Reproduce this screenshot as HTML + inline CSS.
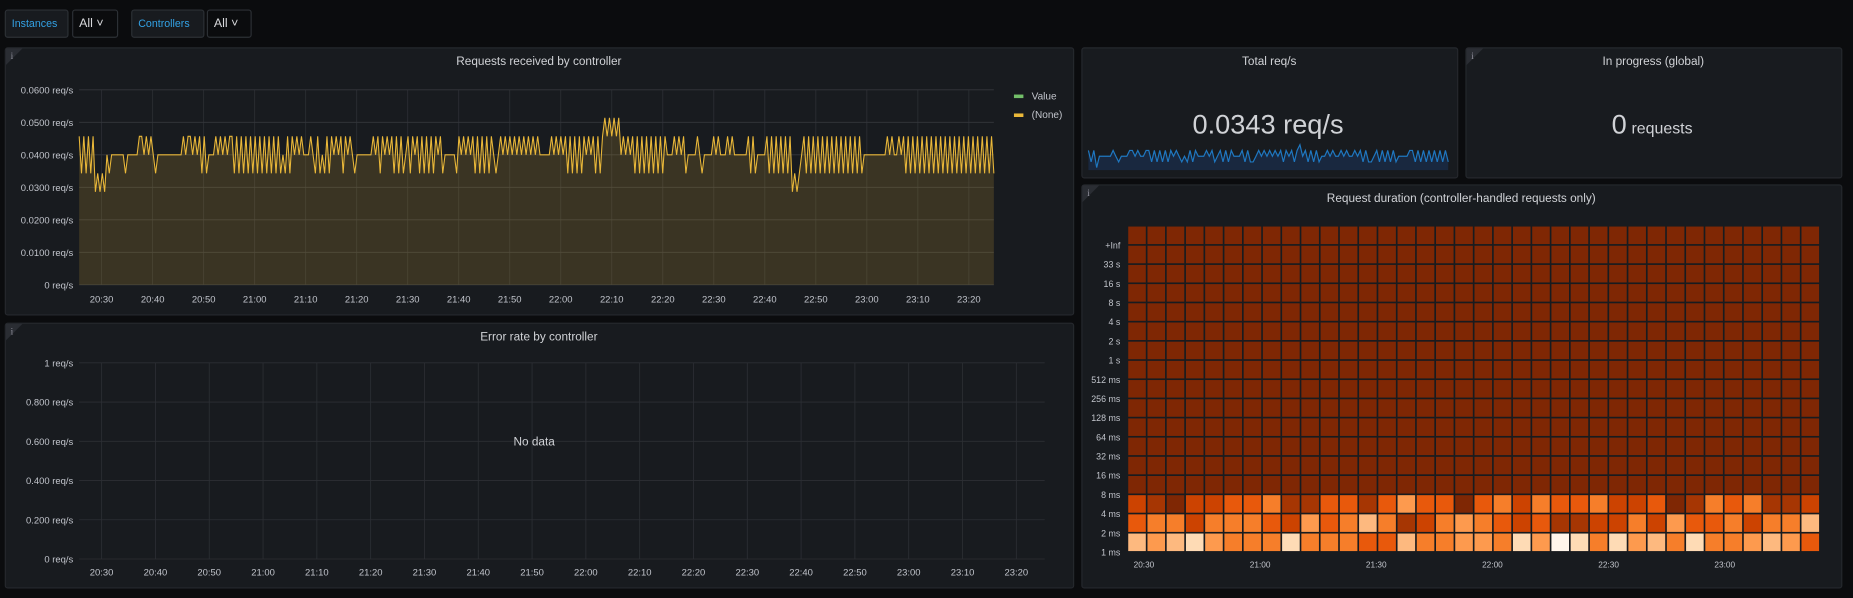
<!DOCTYPE html>
<html><head><meta charset="utf-8">
<style>
html,body{margin:0;padding:0;background:#0b0c0e;overflow:hidden;}
svg{display:block;font-family:"Liberation Sans",sans-serif;}
</style></head>
<body>
<svg id="s" width="1853" height="598" viewBox="0 0 1568 506" preserveAspectRatio="none" xmlns="http://www.w3.org/2000/svg"></svg>
<script>
// ---- Data ----
const reqLevels = "424242412121323333332333334434343233333333333434434342423334343434424242424242424242424232424343433343242324243434243432333333343424343424242342434242424243423333324343434242424243234343434343434343433333434343424242424343424245454545343434242424242424243334343423333432333343433343433333342423333424242424241212342424242424242424242424242333333333343433434242424242424242424242424242424242424242";
const levelValues = [0, 0.0286, 0.0343, 0.04, 0.0457, 0.0514];
const reqValues = reqLevels.split("").map(c => levelValues[+c]);
const reqYTicks = [0, 0.01, 0.02, 0.03, 0.04, 0.05, 0.06];
const reqYLabels = ["0 req/s","0.0100 req/s","0.0200 req/s","0.0300 req/s","0.0400 req/s","0.0500 req/s","0.0600 req/s"];
const timeLabels = ["20:30","20:40","20:50","21:00","21:10","21:20","21:30","21:40","21:50","22:00","22:10","22:20","22:30","22:40","22:50","23:00","23:10","23:20"];
const timeMinutes = [30,40,50,60,70,80,90,100,110,120,130,140,150,160,170,180,190,200];
const errYTicks = [0,0.2,0.4,0.6,0.8,1];
const errYLabels = ["0 req/s","0.200 req/s","0.400 req/s","0.600 req/s","0.800 req/s","1 req/s"];
const heatRowLabels = ["1 ms","2 ms","4 ms","8 ms","16 ms","32 ms","64 ms","128 ms","256 ms","512 ms","1 s","2 s","4 s","8 s","16 s","33 s","+Inf"];
const heatRow2ms = [6,5,6,7,5,4,4,4,7,4,4,4,3,3,6,4,4,5,5,4,7,5,8,7,4,7,5,6,4,7,4,4,5,6,5,3];
const heatRow4ms = [3,4,4,2,4,4,4,3,2,5,3,4,6,4,1,2,4,5,4,3,2,3,1,1,2,2,4,2,5,3,3,4,2,4,4,6];
const heatRow8ms = [2,1,0,2,2,3,3,4,1,1,3,3,1,3,5,3,3,0,3,4,2,4,3,3,4,2,2,3,0,1,4,3,4,1,1,2];
const heatXLabels = ["20:30","21:00","21:30","22:00","22:30","23:00"];
const heatXMinutes = [30,60,90,120,150,180];

const NS="http://www.w3.org/2000/svg";
const svg=document.getElementById('s');
function el(tag,attrs,parent,text){const e=document.createElementNS(NS,tag);for(const k in attrs)e.setAttribute(k,attrs[k]);if(text!=null)e.textContent=text;(parent||svg).appendChild(e);return e;}
const TXT='#c2c5cc';

function panel(x,y,w,h,name,title,info){
  const g=el('g',{});
  
  
  el('rect',{x:x+0.5,y:y+0.5,width:w,height:h,rx:2,fill:'#181b1f',stroke:'#25282d'},g);
  if(info){el('path',{d:`M${x+1} ${y+1}h14l-14 14z`,fill:'#2a2d33'},g);
    const t=el('text',{x:x+5,y:y+10,'font-size':8,fill:'#8e8e9a','font-family':'Liberation Serif, serif'},g,'i');
    }
  if(title){const t=el('text',{x:x+w/2,y:y+15,'font-size':10,fill:'#d0d2d6','text-anchor':'middle'},g,title);
    }
  return g;
}

function btn(x,w,label,color,name){
  const g=el('g',{});
  
  
  el('rect',{x:x+0.5,y:8.5,width:w,height:23,rx:2,fill:color==='#33a2e5'?'#181b1f':'#0b0c0e',stroke:'#2c3035'},g);
  el('text',{x:x+6,y:23,'font-size':color==='#33a2e5'?9:10.5,fill:color},g,label);
}
btn(4,53,'Instances','#33a2e5','instances-label');
btn(61,38,'All ˅','#d8d9dc','instances-select');
btn(111,61,'Controllers','#33a2e5','controllers-label');
btn(175,37,'All ˅','#d8d9dc','controllers-select');

// ---- Panel 1 ----
const p1=panel(4,40,904,226,'requests-panel','Requests received by controller',true);
const X0=67,X1=841,startMin=25.6,endMin=204.9;
const xs=m=>X0+(m-startMin)/(endMin-startMin)*(X1-X0);
const ys=v=>241-v/0.06*(241-76);
timeMinutes.forEach((m,i)=>{el('line',{x1:xs(m),x2:xs(m),y1:76,y2:241,stroke:'#2c2f34','stroke-width':0.7},p1);
  const t=el('text',{x:xs(m),y:256,'font-size':8,fill:TXT,'text-anchor':'middle'},p1,timeLabels[i]);
  });
reqYTicks.forEach((v,i)=>{el('line',{x1:X0,x2:X1,y1:ys(v),y2:ys(v),stroke:'#34373c','stroke-width':0.8},p1);
  const t=el('text',{x:62,y:ys(v)+3,'font-size':8,fill:TXT,'text-anchor':'end'},p1,reqYLabels[i]);
  });
const n=reqValues.length;
const px=i=>X0+i/(n-1)*(X1-X0);
let d=reqValues.map((v,i)=>(i?'L':'M')+px(i).toFixed(2)+' '+ys(v).toFixed(2)).join('');
const area=el('path',{d:d+`L${X1} 241L${X0} 241Z`,fill:'rgba(234,184,57,0.16)'},p1);

const line=el('path',{d:d,fill:'none',stroke:'#eab839','stroke-width':0.9},p1);

[['Value','#73bf69',82],['(None)','#eab839',98]].forEach(([l,c,y])=>{
  const g=el('g',{},p1);
  el('rect',{x:858,y:y-2,width:8,height:3,fill:c},g);
  el('text',{x:873,y:y+2,'font-size':8.5,fill:TXT},g,l);});

// ---- Panel 2 ----
const p2=panel(4,273,904,224,'error-rate-panel','Error rate by controller',true);
const E0=67,E1=884;
const xe=m=>86+(m-30)/170*(860-86);
const ye=v=>473-v*(473-307);
timeMinutes.forEach((m,i)=>{el('line',{x1:xe(m),x2:xe(m),y1:307,y2:473,stroke:'#2c2f34','stroke-width':0.7},p2);
  const t=el('text',{x:xe(m),y:487,'font-size':8,fill:TXT,'text-anchor':'middle'},p2,timeLabels[i]);
  });
errYTicks.forEach((v,i)=>{el('line',{x1:E0,x2:E1,y1:ye(v),y2:ye(v),stroke:'#2c2f34','stroke-width':0.7},p2);
  const t=el('text',{x:62,y:ye(v)+3,'font-size':8,fill:TXT,'text-anchor':'end'},p2,errYLabels[i]);
  });
const nd=el('text',{x:452,y:377,'font-size':10,fill:'#d0d2d6','text-anchor':'middle'},p2,'No data');


// ---- Stat: Total req/s ----
const p3=panel(915,40,318,110,'total-req-stat','Total req/s',false);
const S0=921,S1=1227,SY0=122,SY1=144;
const ss=v=>SY1-(v-0.026)/(0.052-0.026)*(SY1-SY0);
const step=Math.max(1,Math.floor(n/100));
const spark=[];for(let i=0;i<n;i+=step)spark.push([S0+i/(n-1)*(S1-S0),ss(reqValues[i])]);
const sd=spark.map((p,i)=>(i?'L':'M')+p[0].toFixed(1)+' '+p[1].toFixed(1)).join('');
el('path',{d:sd+`L${spark[spark.length-1][0]} ${SY1}L${S0} ${SY1}Z`,fill:'rgba(31,96,196,0.2)'},p3);
const sl=el('path',{d:sd,fill:'none',stroke:'#1f78c1','stroke-width':1},p3);

const sv=el('text',{x:1073,y:113,'font-size':23,fill:'#d0d2d6','text-anchor':'middle'},p3,'0.0343 req/s');


// ---- Stat: In progress ----
const p4=panel(1240,40,318,110,'in-progress-stat','In progress (global)',true);
const iv=el('text',{x:1398,y:113,'text-anchor':'middle',fill:'#d0d2d6'},p4);

el('tspan',{'font-size':23},iv,'0');el('tspan',{'font-size':13.5,dx:4},iv,'requests');

// ---- Heatmap ----
const p5=panel(915,156,643,341,'duration-heatmap-panel','Request duration (controller-handled requests only)',true);
const palette=['#7f2704','#a63603','#cc4301','#e8590c','#f67e2a','#fd9a4e','#fdb97f','#fedbb5','#fff5eb'];
const HX0=954,HX1=1540,HY0=191,HY1=467,rows=heatRowLabels.length,cols=heatRow2ms.length;
const cw=(HX1-HX0)/cols,ch=(HY1-HY0)/rows;
const rowData=r=>r===0?heatRow2ms:r===1?heatRow4ms:r===2?heatRow8ms:null;
for(let r=0;r<rows;r++){for(let c=0;c<cols;c++){
  const rd=rowData(r);const lv=rd?rd[c]:0;
  const cell=el('rect',{x:HX0+c*cw+0.7,y:HY1-(r+1)*ch+0.7,width:cw-1.4,height:ch-1.4,fill:palette[lv]},p5);
  }}
heatRowLabels.forEach((l,r)=>{const t=el('text',{x:948,y:HY1-r*ch+3,'font-size':7.5,fill:TXT,'text-anchor':'end'},p5,l);
  });
const hx=m=>968+(m-30)/30*98.3;
heatXMinutes.forEach((m,i)=>{const t=el('text',{x:hx(m),y:480,'font-size':7,fill:TXT,'text-anchor':'middle'},p5,heatXLabels[i]);
  });
</script>
</body></html>
